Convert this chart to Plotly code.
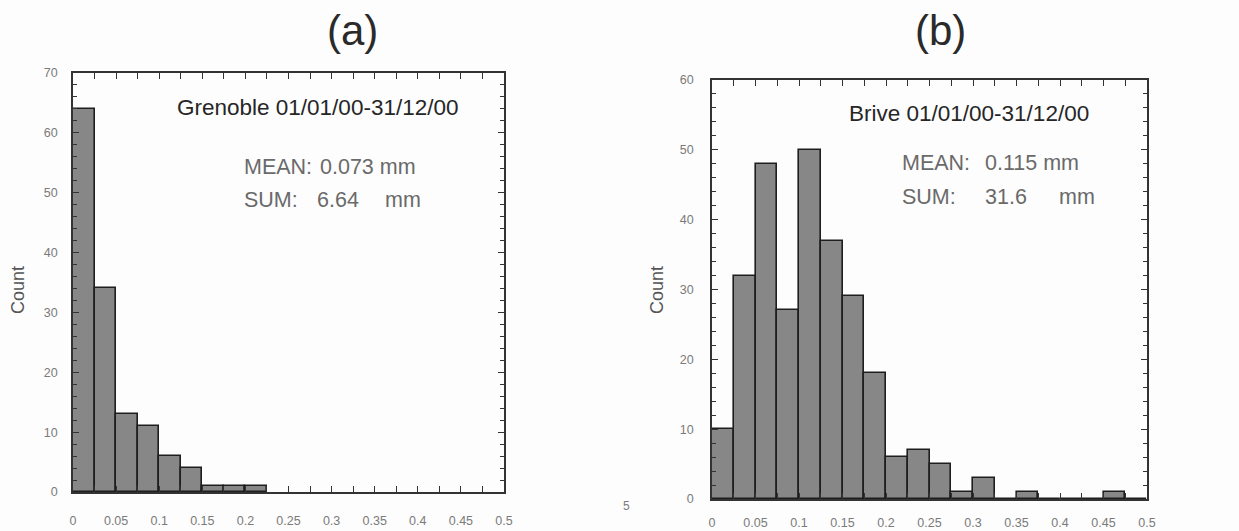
import plotly.graph_objects as go

W, H = 1239, 531

# ---- data ----
bin_width = 0.025
grenoble_counts = [64, 34, 13, 11, 6, 4, 1, 1, 1]
brive_counts = [10, 32, 48, 27, 50, 37, 29, 18, 6, 7, 5, 1, 3, 0, 1, 0, 0, 0, 1, 0]
x_ticks = [0, 0.05, 0.1, 0.15, 0.2, 0.25, 0.3, 0.35, 0.4, 0.45, 0.5]
x_tick_labels = ["0", "0.05", "0.1", "0.15", "0.2", "0.25", "0.3", "0.35", "0.4", "0.45", "0.5"]
grenoble_title = "Grenoble 01/01/00-31/12/00"
brive_title = "Brive 01/01/00-31/12/00"
grenoble_mean, grenoble_sum = "0.073", "6.64"
brive_mean, brive_sum = "0.115", "31.6"


def centers(counts):
    return [i * bin_width + bin_width / 2 for i in range(len(counts))]


BAR_FILL = "#878787"
BAR_LINE = "#1e1e1e"
TICK_FONT = dict(family="Liberation Sans, Arial, sans-serif", size=12.5, color="#7a7a7a")

fig = go.Figure()
fig.add_trace(go.Bar(x=centers(grenoble_counts), y=grenoble_counts, width=bin_width,
                     marker=dict(color=BAR_FILL, line=dict(color=BAR_LINE, width=1.6)),
                     xaxis="x", yaxis="y", showlegend=False, hoverinfo="x+y"))
fig.add_trace(go.Bar(x=centers(brive_counts), y=brive_counts, width=bin_width,
                     marker=dict(color=BAR_FILL, line=dict(color=BAR_LINE, width=1.6)),
                     xaxis="x2", yaxis="y2", showlegend=False, hoverinfo="x+y"))


def px(x):
    return x / W


def py(y):
    return 1 - y / H


def xaxis(domain, standoff):
    return dict(domain=domain, range=[0, 0.5], tickmode="array", tickvals=x_ticks,
                ticktext=x_tick_labels, ticks="inside", ticklen=6, tickcolor="#333",
                tickwidth=1.3, showline=True, linecolor="#333", linewidth=1.8,
                mirror="ticks", showgrid=False, zeroline=False, tickfont=TICK_FONT,
                ticklabelstandoff=standoff, automargin=False,
                minor=dict(dtick=0.025, ticks="inside", ticklen=6, tickcolor="#333",
                           tickwidth=1.3, showgrid=False))


def yaxis(domain, top, anchor, standoff):
    return dict(domain=domain, range=[0, top], dtick=10, ticks="inside", ticklen=6,
                tickcolor="#333", tickwidth=1.3, showline=True, linecolor="#333",
                linewidth=1.8, mirror="ticks", showgrid=False, zeroline=False,
                tickfont=TICK_FONT, anchor=anchor, ticklabelstandoff=standoff,
                automargin=False,
                minor=dict(dtick=2, ticks="inside", ticklen=4, tickcolor="#333",
                           tickwidth=1.1, showgrid=False))


fig.update_layout(
    width=W, height=H, margin=dict(l=0, r=0, t=0, b=0, autoexpand=False),
    paper_bgcolor="#fdfdfd", plot_bgcolor="#fdfdfd", bargap=0,
    xaxis=dict(**xaxis([px(73), px(504)], 16), anchor="y"),
    yaxis=yaxis([py(492), py(73)], 70, "x", 11),
    xaxis2=dict(**xaxis([px(712), px(1147)], 11), anchor="y2"),
    yaxis2=yaxis([py(499), py(80)], 60, "x2", 14),
)

ann = []
TITLE_FONT = dict(family="Liberation Sans, Arial, sans-serif", size=42, color="#2a2a2a")
ann.append(dict(text="(a)", x=px(352), y=py(30), showarrow=False, font=TITLE_FONT,
                xref="paper", yref="paper", xanchor="center", yanchor="middle"))
ann.append(dict(text="(b)", x=px(940), y=py(30), showarrow=False, font=TITLE_FONT,
                xref="paper", yref="paper", xanchor="center", yanchor="middle"))

LABEL_FONT = dict(family="Liberation Sans, Arial, sans-serif", size=18, color="#555")
for xx, yy in [(18, 290), (657, 290)]:
    ann.append(dict(text="Count", x=px(xx), y=py(yy), textangle=-90, showarrow=False,
                    font=LABEL_FONT, xref="paper", yref="paper",
                    xanchor="center", yanchor="middle"))

HEAD_FONT = dict(family="Liberation Sans, Arial, sans-serif", size=22.5, color="#262626")
STAT_FONT = dict(family="Liberation Sans, Arial, sans-serif", size=21.5, color="#6a6a6a")

ann.append(dict(text=grenoble_title, x=px(317), y=py(107), showarrow=False, font=HEAD_FONT,
                xref="paper", yref="paper", xanchor="center", yanchor="middle"))
ann.append(dict(text=brive_title, x=px(969), y=py(113), showarrow=False, font=HEAD_FONT,
                xref="paper", yref="paper", xanchor="center", yanchor="middle"))

stats = [
    ("MEAN:", 242, 167), (grenoble_mean + " mm", 318, 167),
    ("SUM:", 242, 200), (grenoble_sum, 315, 200), ("mm", 383, 200),
    ("MEAN:", 900, 163), (brive_mean + " mm", 983, 163),
    ("SUM:", 900, 197), (brive_sum, 983, 197), ("mm", 1057, 197),
]
for t, xx, yy in stats:
    ann.append(dict(text=t, x=px(xx), y=py(yy), showarrow=False, font=STAT_FONT,
                    xref="paper", yref="paper", xanchor="left", yanchor="middle"))

ann.append(dict(text="5", x=px(627), y=py(506), showarrow=False,
                font=dict(family="Liberation Sans, Arial, sans-serif", size=12, color="#7a7a7a"),
                xref="paper", yref="paper", xanchor="center", yanchor="middle"))

fig.update_layout(annotations=ann)
fig.write_html("out.html", config={"displayModeBar": False},
               post_script="document.body.style.margin='0';")
